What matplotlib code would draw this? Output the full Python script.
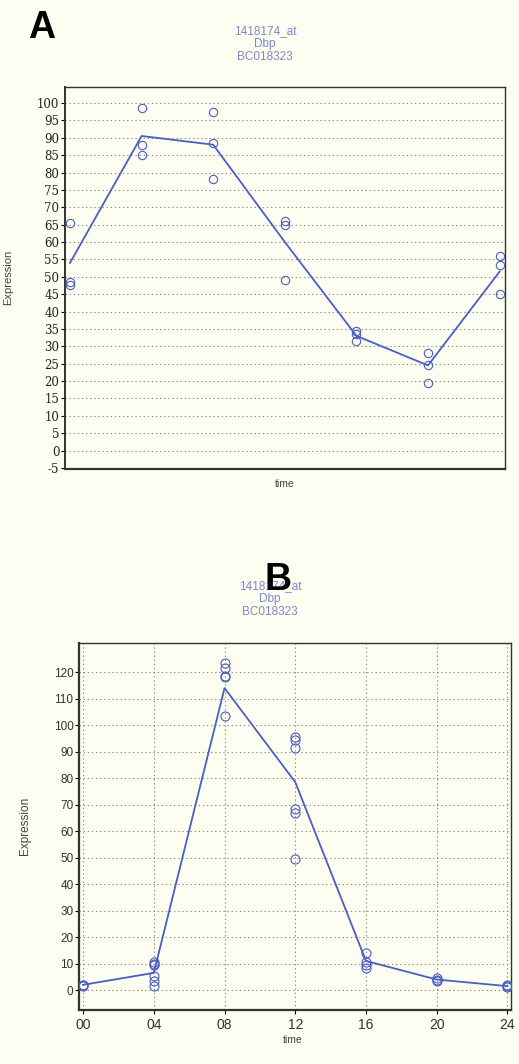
import numpy as np
import matplotlib
matplotlib.use('Agg')
from matplotlib import pyplot as plt

plt.rcParams['axes.unicode_minus'] = False

# panel A data (time, replicate values) + mean line
timesA = [0, 4, 8, 12, 16, 20, 24]
pointsA = [[65.5, 48.5, 47.5],
           [98.5, 88.0, 85.0],
           [97.5, 88.5, 78.0],
           [66.0, 65.0, 49.0],
           [34.5, 33.5, 31.5],
           [28.0, 24.5, 19.5],
           [56.0, 53.5, 45.0]]
lineA = [54.0, 90.5, 88.0, 60.0, 33.0, 24.5, 51.5]

# panel B data
timesB = [0, 4, 8, 12, 16, 20, 24]
pointsB = [[2.0, 1.8, 1.5],
           [10.5, 10.0, 9.5, 5.5, 3.5, 1.5],
           [123.5, 121.5, 118.5, 118.0, 103.5],
           [95.5, 94.5, 91.5, 68.5, 67.0, 49.5],
           [14.0, 10.5, 9.5, 8.5],
           [4.5, 4.0, 3.5],
           [2.0, 1.5, 1.0]]
lineB = [2.0, 6.5, 114.0, 78.5, 11.0, 4.0, 1.5]
xticklabelsB = ['00', '04', '08', '12', '16', '20', '24']

title_lines = '1418174_at\nDbp\nBC018323'

W, H = 519, 1064
bg = '#fdfdf1'
blue = '#4a5fc0'
title_col = '#7c89c6'
grid_col = '#8a8a8a'

fig = plt.figure(figsize=(W / 100, H / 100), dpi=100, facecolor=bg)

def frac(l, t, r, b):
    return [l / W, (H - b) / H, (r - l) / W, (b - t) / H]

def scatter_pts(ax, times, pts, ms):
    for t, vals in zip(times, pts):
        ax.plot([t] * len(vals), vals, 'o', mfc='none', mec=blue, mew=0.8,
                ms=ms, zorder=3)

# ---------- panel A ----------
ax = fig.add_axes(frac(65, 87, 505, 469), facecolor=bg)
ax.plot(timesA, lineA, color=blue, lw=1.3, zorder=2)
scatter_pts(ax, timesA, pointsA, 6)
ax.set_xlim(-0.28, 24.3)
ax.set_ylim(-5.3, 104.6)
ax.set_yticks(np.arange(-5, 101, 5))
ax.set_xticks([])
ax.yaxis.grid(True, ls=(0, (1.2, 2.5)), color=grid_col, lw=0.8)
ax.tick_params(axis='y', length=3, width=0.8, pad=1, labelsize=8.5,
               labelcolor='#222222')
for lb in ax.get_yticklabels():
    lb.set_family('DejaVu Serif')
for s in ax.spines.values():
    s.set_color('#333333')
    s.set_linewidth(1.0)
ax.spines['bottom'].set_linewidth(1.6)
ax.spines['left'].set_linewidth(1.4)

fig.text(285 / W, 1 - 484 / H, 'time', ha='center', va='center',
         fontsize=7.5, color='#444444', family='Liberation Sans')
fig.text(8 / W, 1 - 277 / H, 'Expression', ha='center', va='center',
         rotation=90, fontsize=8, color='#444444', family='Liberation Sans')
fig.text(265 / W, 1 - 44 / H, title_lines, ha='center', va='center',
         fontsize=8.5, color=title_col, family='Liberation Sans',
         linespacing=1.15)
fig.text(42 / W, 1 - 28 / H, 'A', ha='center', va='center',
         fontsize=27, fontweight='bold', family='Liberation Sans')

# ---------- panel B ----------
ax2 = fig.add_axes(frac(79, 643, 511, 1010), facecolor=bg)
ax2.plot(timesB, lineB, color=blue, lw=1.3, zorder=2)
scatter_pts(ax2, timesB, pointsB, 6.5)
ax2.set_xlim(-0.23, 24.2)
ax2.set_ylim(-7.5, 131)
ax2.set_yticks(np.arange(0, 121, 10))
ax2.set_xticks(timesB)
ax2.set_xticklabels(xticklabelsB)
ax2.grid(True, ls=(0, (1.2, 2.5)), color=grid_col, lw=0.8)
ax2.tick_params(axis='y', length=3, width=0.8, pad=1, labelsize=8.5)
ax2.tick_params(axis='x', length=3, width=0.8, pad=3, labelsize=10)
for lb in ax2.get_yticklabels() + ax2.get_xticklabels():
    lb.set_family('Liberation Sans')
    lb.set_color('#333333')
for s in ax2.spines.values():
    s.set_color('#333333')
    s.set_linewidth(1.0)
ax2.spines['bottom'].set_linewidth(1.6)
ax2.spines['left'].set_linewidth(1.6)

fig.text(293 / W, 1 - 1040 / H, 'time', ha='center', va='center',
         fontsize=7.5, color='#444444', family='Liberation Sans')
fig.text(25 / W, 1 - 826 / H, 'Expression', ha='center', va='center',
         rotation=90, fontsize=8.5, color='#444444', family='Liberation Sans')
fig.text(270 / W, 1 - 599 / H, title_lines, ha='center', va='center',
         fontsize=8.5, color=title_col, family='Liberation Sans',
         linespacing=1.15)
fig.text(278 / W, 1 - 580 / H, 'B', ha='center', va='center',
         fontsize=27, fontweight='bold', family='Liberation Sans')

fig.savefig('out.png', dpi=100, facecolor=bg)
